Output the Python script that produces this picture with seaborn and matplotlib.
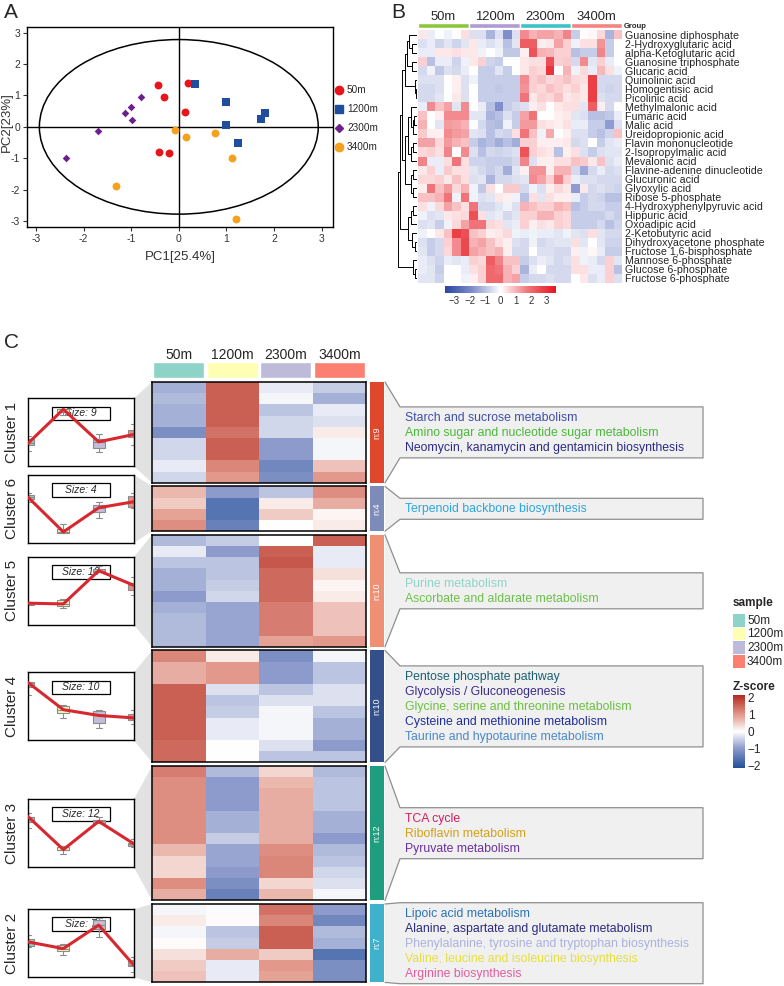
import numpy as np
import pandas as pd
import matplotlib
matplotlib.use('Agg')
import matplotlib.pyplot as plt
import seaborn as sns
from matplotlib.colors import LinearSegmentedColormap, Normalize
from matplotlib.patches import Ellipse, Rectangle
from matplotlib.lines import Line2D
import matplotlib.cm as cm

# ---------------- data ----------------
groups = ['50m', '1200m', '2300m', '3400m']

# Panel A: PCA scores
pc1_50m = [-0.44, 0.20, -0.32, 0.13, -0.42, -0.21]
pc2_50m = [1.33, 1.41, 0.94, 0.46, -0.79, -0.82]
pc1_1200m = [0.35, 0.99, 1.81, 1.73, 0.99, 1.25]
pc2_1200m = [1.36, 0.78, 0.44, 0.26, 0.06, -0.52]
pc1_2300m = [-0.79, -1.01, -1.14, -0.99, -1.70, -2.38]
pc2_2300m = [0.95, 0.64, 0.43, 0.21, -0.12, -1.00]
pc1_3400m = [-0.09, 0.15, 0.75, 1.11, -1.32, 1.20]
pc2_3400m = [-0.09, -0.31, -0.21, -0.98, -1.89, -2.95]
ellipse_semi_axes = (2.93, 2.78)

# Panel B: metabolite heatmap
b_metabolites = ['Guanosine diphosphate', '2-Hydroxyglutaric acid', 'alpha-Ketoglutaric acid',
                 'Guanosine triphosphate', 'Glucaric acid', 'Quinolinic acid', 'Homogentisic acid',
                 'Picolinic acid', 'Methylmalonic acid', 'Fumaric acid', 'Malic acid',
                 'Ureidopropionic acid', 'Flavin mononucleotide', '2-Isopropylmalic acid',
                 'Mevalonic acid', 'Flavine-adenine dinucleotide', 'Glucuronic acid',
                 'Glyoxylic acid', 'Ribose 5-phosphate', '4-Hydroxyphenylpyruvic acid',
                 'Hippuric acid', 'Oxoadipic acid', '2-Ketobutyric acid',
                 'Dihydroxyacetone phosphate', 'Fructose 1,6-bisphosphate',
                 'Mannose 6-phosphate', 'Glucose 6-phosphate', 'Fructose 6-phosphate']
b_50m = [
    [0.3, -0.3, 0.0, -0.2, 0.0, 0.4], [-0.5, -0.3, -0.7, -0.4, -0.7, -0.4],
    [-0.3, -0.3, 0.3, 0.3, 0.4, 0.3], [0.6, -1.0, -0.3, -0.3, -0.7, -0.2],
    [-0.6, -0.2, -0.9, -0.5, -0.6, -0.3], [-0.5, -0.5, -0.5, 0.0, 0.2, -0.5],
    [-0.6, -0.6, -0.5, 0.0, 0.2, -0.5], [-0.6, -0.6, -0.4, 0.0, 0.3, -0.5],
    [-0.3, 1.5, 0.8, 1.2, -0.4, 1.5], [0.8, 0.0, 0.2, 1.5, 1.5, 1.5],
    [1.0, 0.0, -0.4, 1.3, 1.2, 1.0], [0.7, 0.2, 0.2, 1.5, 1.3, 1.2],
    [1.2, 1.2, 0.5, 1.3, 1.0, 0.8], [0.5, 0.6, 0.4, 1.6, 0.0, 1.5],
    [1.6, -0.3, -0.3, 0.4, 1.8, 0.4], [0.3, 0.6, -0.3, 0.7, 0.4, 0.4],
    [0.5, 0.5, 0.6, 0.3, 0.8, 0.4], [0.2, 1.8, 0.8, 1.3, 0.5, 1.0],
    [0.8, 0.8, 1.0, 1.8, -0.2, 1.8], [0.4, -0.2, 0.5, 1.2, 0.8, 0.4],
    [-0.2, -0.5, -0.4, 0.3, 0.4, 0.5], [-0.5, -0.4, -0.8, -0.2, 0.5, 1.2],
    [-0.2, 0.0, 0.3, 0.8, 2.8, 2.5], [-0.5, -0.8, -0.6, 0.6, 1.5, 2.6],
    [-0.4, -0.8, -0.6, 0.5, 1.5, 2.6], [-0.3, -0.5, -0.7, -0.3, -0.4, -0.3],
    [-0.3, -0.4, -0.8, 0.0, 0.0, -0.3], [-0.4, -0.4, -0.7, 0.0, 0.0, -0.2]]
b_1200m = [
    [-0.5, -0.5, -1.2, -0.5, -1.8, -0.5], [0.3, -0.3, -0.5, -0.3, -1.0, -0.4],
    [0.3, -0.2, 0.0, -0.2, -0.9, -0.9], [0.3, 0.6, -0.7, -0.8, 0.0, 0.0],
    [0.0, -0.8, -0.8, -0.4, -0.8, 0.0], [-0.2, -0.8, -0.8, -0.8, -0.8, -0.8],
    [0.0, -0.8, -0.8, -0.9, -0.8, -0.8], [0.0, -0.8, -0.8, -0.8, -0.8, -0.8],
    [0.0, -0.3, -1.0, -1.8, -0.8, -0.6], [-0.4, -0.4, -1.2, -1.0, -0.5, -0.8],
    [0.0, -0.6, -1.0, -1.1, -0.2, -0.8], [-0.4, -0.5, -1.0, -0.6, -0.7, 0.4],
    [-0.8, -1.2, -1.0, -1.3, -1.0, -1.3], [-0.5, -1.0, -0.6, -0.7, -0.6, -0.5],
    [-0.7, -0.7, -0.8, -0.8, -0.8, -0.6], [-0.4, -0.6, -0.8, -0.6, -1.3, -0.4],
    [-0.5, -0.4, -1.2, -0.6, -0.6, -0.5], [-0.2, -0.9, 0.4, 0.0, 0.7, 0.7],
    [-0.2, -0.5, -0.4, 0.3, 0.2, -0.2], [1.8, -0.6, -0.6, -0.4, -0.2, -0.5],
    [2.5, 0.4, -0.4, -0.3, -0.6, -0.4], [1.8, 1.8, 0.5, 0.4, -0.4, -0.3],
    [0.8, 0.6, 0.2, 0.3, 0.5, -0.2], [1.0, 1.2, 0.8, 0.4, 0.2, -0.5],
    [1.2, 1.0, 0.8, 1.0, 0.2, -0.6], [0.6, 0.5, 2.2, 1.6, 0.8, 0.8],
    [0.4, 0.6, 2.0, 1.8, 1.0, 0.6], [0.2, 0.6, 2.0, 2.0, 1.0, 1.2]]
b_2300m = [
    [1.5, 1.0, 1.2, 1.2, 1.0, 1.6], [2.2, 2.2, 0.2, 0.3, 1.2, 0.6],
    [0.2, 2.4, 1.0, 0.9, 0.6, 0.6], [0.3, 0.4, 0.4, 2.5, 0.6, 0.7],
    [0.3, 0.6, 0.5, 3.0, 0.0, 1.0], [1.5, 0.6, 0.8, 0.5, 0.6, 0.8],
    [1.4, 0.6, 0.5, 0.8, 0.6, 0.4], [1.8, 0.3, 0.6, 0.5, 0.8, 0.3],
    [-0.5, 0.2, 0.4, 0.0, 0.3, 0.4], [1.2, 1.8, 0.0, 0.0, 0.2, 0.3],
    [1.3, 1.3, 0.4, 0.3, 0.2, 0.4], [1.8, 0.8, -0.2, 1.1, 0.0, 0.2],
    [0.6, 0.6, 0.2, 0.2, 0.2, 0.3], [2.4, 0.6, 0.4, 0.3, -1.0, 0.2],
    [1.6, -0.5, 0.2, 0.2, 0.4, 0.4], [0.2, 1.4, 1.4, 0.2, 1.0, 1.0],
    [-0.4, 1.5, 1.2, 0.6, 1.6, 0.6], [-0.6, -0.2, -0.5, 0.2, 0.5, 0.3],
    [-1.0, 0.4, -0.4, 0.4, 0.2, 0.2], [1.0, 0.8, 0.6, 0.6, 1.0, 0.8],
    [0.6, 0.6, 1.0, 1.0, 0.6, 0.5], [0.6, 0.2, 0.4, 0.3, 0.6, 0.5],
    [-0.3, -0.2, -0.3, -0.3, -0.4, -0.2], [-0.6, -0.2, -0.6, -0.5, -0.4, -0.4],
    [-0.6, 0.0, -0.5, -0.5, -0.6, -0.6], [-0.8, -0.5, -0.3, -0.4, -0.6, -0.5],
    [-1.2, -0.3, 0.0, -0.6, -0.6, -0.6], [-0.8, -0.6, -0.6, -0.5, -0.6, -0.6]]
b_3400m = [
    [-0.8, 0.0, 0.1, 0.5, -1.2, 0.8], [-0.2, 0.4, 0.4, 1.4, -0.8, 0.0],
    [-1.0, -0.8, -0.8, 1.6, -0.8, 0.0], [-0.6, 1.5, -0.4, 0.6, -0.3, 0.0],
    [-0.2, 0.5, -0.3, 0.9, 0.4, -0.2], [0.5, 0.4, 2.8, -0.6, -0.6, -0.6],
    [0.6, 0.3, 2.8, -0.6, -0.7, -0.6], [0.4, 0.3, 2.8, -0.5, -0.6, -0.6],
    [0.4, -0.4, 2.2, 0.2, -0.6, 0.0], [-0.4, -0.5, -1.0, -1.0, -0.9, -0.3],
    [-0.3, -0.3, -0.8, -0.8, -1.6, -0.5], [-0.5, -0.5, -0.8, -1.0, -0.7, 0.8],
    [-0.6, -0.5, 0.0, -0.8, -0.4, -0.3], [0.4, -0.5, -0.8, -0.5, -0.4, -0.4],
    [0.8, 0.7, 0.3, 0.8, -0.5, -0.3], [-0.6, -1.4, -0.6, -0.3, -0.6, -0.5],
    [-0.3, -0.5, -0.5, -0.6, -0.6, -0.6], [-1.6, 0.3, -0.6, -0.5, -0.6, -0.7],
    [-0.3, -0.8, -0.6, -0.7, -1.0, -1.0], [-1.0, -0.8, -0.6, -0.6, -0.8, -0.8],
    [-0.8, -0.8, -0.8, -0.8, -0.6, -0.8], [-0.8, -0.8, -0.8, -0.6, -1.0, -0.7],
    [-0.4, -0.5, 0.4, -0.4, -0.6, -0.6], [0.4, -0.4, 0.0, -0.4, -0.7, -0.7],
    [0.2, -0.2, 0.1, -0.3, -0.8, -0.8], [0.4, -0.2, -0.3, -0.6, 0.6, -0.4],
    [0.4, 0.4, -0.3, -0.3, 0.6, -1.0], [0.0, 0.3, -0.5, -0.3, 0.6, -0.5]]
# row dendrogram: (merge height, left, right); leaves are row indices
b_tree = (55, (48, (42, (35, (28, (22, 0, (15, 1, 2)), (13, 3, 4)), (5, 5, (3, 6, 7))),
                    (35, (25, (18, 8, (12, (8, 9, 10), 11)), (17, (12, 12, 13), 14)),
                     (18, (10, 15, 16), (10, 17, 18)))),
              (25, (18, (12, 19, 20), 21), (15, 22, (5, 23, 24)))),
          (12, 25, (5, 26, 27)))

# Panel C: cluster z-scores (rows = metabolites, cols = groups)
c1 = [[-0.8, 1.6, -0.2, -0.5], [-0.7, 1.6, -0.1, -0.8], [-0.8, 1.6, -0.6, -0.2],
      [-0.8, 1.6, -0.4, -0.3], [-1.2, 1.4, -0.4, 0.2], [-0.4, 1.6, -1.0, -0.1],
      [-0.4, 1.6, -1.0, -0.1], [-0.2, 1.2, -1.3, 0.6], [-0.4, 1.0, -1.2, 1.0]]
c6 = [[0.7, -1.0, -0.6, 1.1], [0.5, -1.6, 0.2, 0.8], [0.9, -1.6, 0.5, 0.1], [1.1, -1.4, 0.0, 0.2]]
c5 = [[-0.7, -0.5, 0.0, 1.6], [-0.2, -1.0, 1.6, -0.2], [-0.6, -0.6, 1.7, -0.2],
      [-0.8, -0.6, 1.5, 0.3], [-0.8, -0.5, 1.5, 0.1], [-1.0, -0.4, 1.5, 0.2],
      [-0.8, -0.9, 1.3, 0.6], [-0.7, -0.9, 1.3, 0.6], [-0.7, -0.9, 1.3, 0.6],
      [-0.7, -0.9, 0.9, 1.0]]
c4 = [[1.2, 0.2, -1.2, -0.1], [0.8, 1.0, -1.0, -0.6], [0.8, 1.0, -1.0, -0.6],
      [1.6, -0.3, -0.6, -0.3], [1.6, -0.6, -0.3, -0.3], [1.6, -0.5, -0.1, -0.6],
      [1.6, -0.2, -0.1, -0.8], [1.6, -0.2, -0.1, -0.8], [1.5, 0.0, -0.3, -1.0],
      [1.5, 0.0, -0.6, -0.6]]
c3 = [[1.3, -0.7, 0.4, -0.7], [1.1, -1.0, 0.7, -0.6], [1.1, -1.0, 0.8, -0.6],
      [1.1, -1.0, 0.8, -0.6], [1.1, -0.8, 0.8, -0.8], [1.1, -0.8, 0.8, -0.8],
      [1.1, -0.5, 0.8, -1.0], [0.7, -0.9, 1.1, -0.7], [0.4, -0.9, 1.2, -0.6],
      [0.4, -1.0, 1.2, -0.4], [1.1, -1.2, 0.4, -0.3], [0.8, -1.4, 0.7, -0.1]]
c2 = [[-0.1, -0.05, 1.4, -1.0], [0.2, 0.05, 1.2, -1.3], [-0.1, -0.6, 1.6, -0.7],
      [0.05, -0.5, 1.6, -0.8], [0.3, 0.8, 0.5, -1.6], [0.5, -0.2, 1.0, -1.2],
      [0.6, -0.2, 0.9, -1.2]]
pw_c1 = ['Starch and sucrose metabolism', 'Amino sugar and nucleotide sugar metabolism',
         'Neomycin, kanamycin and gentamicin biosynthesis']
pw_c6 = ['Terpenoid backbone biosynthesis']
pw_c5 = ['Purine metabolism', 'Ascorbate and aldarate metabolism']
pw_c4 = ['Pentose phosphate pathway', 'Glycolysis / Gluconeogenesis',
         'Glycine, serine and threonine metabolism', 'Cysteine and methionine metabolism',
         'Taurine and hypotaurine metabolism']
pw_c3 = ['TCA cycle', 'Riboflavin metabolism', 'Pyruvate metabolism']
pw_c2 = ['Lipoic acid metabolism', 'Alanine, aspartate and glutamate metabolism',
         'Phenylalanine, tyrosine and tryptophan biosynthesis',
         'Valine, leucine and isoleucine biosynthesis', 'Arginine biosynthesis']

# ---------------- styles ----------------
colA = {'50m': '#e8141c', '1200m': '#1f4e9e', '2300m': '#6d1f8c', '3400m': '#f6a11c'}
mkA = {'50m': 'o', '1200m': 's', '2300m': 'D', '3400m': 'o'}
szA = {'50m': 32, '1200m': 30, '2300m': 15, '3400m': 32}
grp_colB = ['#8cc63f', '#b39ad3', '#3fc1c9', '#f28482']
set3 = ['#8dd3c7', '#ffffb3', '#bebada', '#fb8072']
cmapB = LinearSegmentedColormap.from_list(
    'b', [(0, '#2a44a0'), (0.25, '#7f8fcc'), (0.5, '#ffffff'), (0.75, '#ef7479'), (1, '#e8141c')])
cmapC = LinearSegmentedColormap.from_list(
    'c', [(0, '#1f4e9a'), (0.27, '#8c9bcb'), (0.5, '#ffffff'), (0.73, '#e2988a'), (1, '#b2271f')])
pc_c1 = ['#3d4ea8', '#4ab83a', '#2b2b85']
pc_c6 = ['#2aa6e0']
pc_c5 = ['#8fd4c8', '#6cc04a']
pc_c4 = ['#1c5f73', '#3a2a8c', '#6cc040', '#1f2d9a', '#4a88c8']
pc_c3 = ['#d81b60', '#d4a017', '#6a30a0']
pc_c2 = ['#2a72b8', '#2a2a80', '#aab2dd', '#e6e03a', '#e25ca0']
mini_frac = {'Cluster 1': [0.35, 0.84, 0.35, 0.47], 'Cluster 6': [0.68, 0.16, 0.52, 0.59],
             'Cluster 5': [0.31, 0.31, 0.79, 0.59], 'Cluster 4': [0.85, 0.46, 0.35, 0.34],
             'Cluster 3': [0.74, 0.26, 0.68, 0.34], 'Cluster 2': [0.53, 0.42, 0.76, 0.17]}

sns.set_theme(style='white')
plt.rcParams['font.family'] = ['Liberation Sans', 'DejaVu Sans']
plt.rcParams['axes.unicode_minus'] = False

W, H = 784, 986
fig = plt.figure(figsize=(W / 100, H / 100), dpi=100)


def rect(x0, y0, x1, y1):
    return [x0 / W, 1 - y1 / H, (x1 - x0) / W, (y1 - y0) / H]


ov = fig.add_axes([0, 0, 1, 1], facecolor='none')
ov.set_xlim(0, W)
ov.set_ylim(H, 0)
ov.axis('off')

# ---------------- Panel A ----------------
axA = fig.add_axes(rect(27, 27, 333, 227))
pcs = {'50m': (pc1_50m, pc2_50m), '1200m': (pc1_1200m, pc2_1200m),
       '2300m': (pc1_2300m, pc2_2300m), '3400m': (pc1_3400m, pc2_3400m)}
for g in groups:
    d = pd.DataFrame({'PC1': pcs[g][0], 'PC2': pcs[g][1]})
    sns.scatterplot(data=d, x='PC1', y='PC2', color=colA[g], marker=mkA[g], s=szA[g],
                    linewidth=0, ax=axA, zorder=3)
axA.add_patch(Ellipse((0, 0), 2 * ellipse_semi_axes[0], 2 * ellipse_semi_axes[1],
                      fill=False, ec='black', lw=1.1))
axA.axhline(0, color='black', lw=1.0)
axA.axvline(0, color='black', lw=1.0)
axA.set_xlim(-3.19, 3.24)
axA.set_ylim(-3.19, 3.18)
axA.set_xticks(range(-3, 4))
axA.set_yticks(range(-3, 4))
axA.set_xlabel('')
axA.set_ylabel('')
axA.tick_params(bottom=True, left=True, length=3, width=0.8, color='#333333',
                labelsize=7.5, labelcolor='#333333', pad=2)
for s in axA.spines.values():
    s.set_color('black')
    s.set_linewidth(1.0)
handles = [Line2D([], [], marker=mkA[g], color=colA[g], ls='',
                  markersize=6 if mkA[g] != 'D' else 4.2) for g in groups]
fig.legend(handles, groups, loc='upper left', bbox_to_anchor=(334 / W, 1 - 85 / H),
           frameon=False, fontsize=7.2, handlelength=1.0, handletextpad=0.3,
           labelspacing=0.9, borderpad=0, borderaxespad=0)
ov.text(180, 257, 'PC1[25.4%]', fontsize=9.5, ha='center', va='center', color='#333333')
ov.text(7, 122, 'PC2[23%]', fontsize=9.5, ha='center', va='center', rotation=90,
        color='#333333')
ov.text(4, 3, 'A', fontsize=15, ha='left', va='top')

# ---------------- Panel B ----------------
ov.text(391, 3, 'B', fontsize=15, ha='left', va='top')
matB = np.hstack([np.array(b_50m), np.array(b_1200m), np.array(b_2300m), np.array(b_3400m)])
dfB = pd.DataFrame(matB, index=b_metabolites)
axB = fig.add_axes(rect(418, 30, 622, 283))
cbB = fig.add_axes(rect(445, 286, 556, 293))
sns.heatmap(dfB, cmap=cmapB, vmin=-3.6, vmax=3.6, ax=axB, cbar_ax=cbB,
            cbar_kws={'orientation': 'horizontal', 'ticks': [-3, -2, -1, 0, 1, 2, 3]},
            xticklabels=False, yticklabels=True)
axB.yaxis.tick_right()
axB.set_yticks(np.arange(len(b_metabolites)) + 0.5)
axB.set_yticklabels(b_metabolites, rotation=0, fontsize=7.7)
axB.tick_params(axis='y', length=0, pad=2, right=False, left=False)
axB.set_ylabel('')
cbB.tick_params(length=0, labelsize=7, pad=2, colors='#333333')
cbB.set_xticklabels(['\u22123', '\u22122', '\u22121', '0', '1', '2', '3'])
for s in cbB.spines.values():
    s.set_visible(False)

axG = fig.add_axes(rect(418, 23, 622, 28))
axG.bar(range(4), [1] * 4, width=1.0, color=grp_colB)
axG.set_xlim(-0.5, 3.5)
axG.set_ylim(0, 1)
axG.axis('off')
for i, g in enumerate(groups):
    ov.text(418 + 51 * (i + 0.5), 17.5, g, fontsize=9.4, ha='center', va='center')
ov.text(624, 26, 'Group', fontsize=5.5, fontweight='bold', ha='left', va='center')

axD = fig.add_axes(rect(397, 30, 417, 283), facecolor='none')


def draw_tree(node):
    if isinstance(node, int):
        return node + 0.5, 0
    h, l, r = node
    yl, hl = draw_tree(l)
    yr, hr = draw_tree(r)
    axD.plot([hl, h, h, hr], [yl, yl, yr, yr], color='black', lw=0.7)
    return (yl + yr) / 2, h


draw_tree(b_tree)
axD.set_xlim(57, 0)
axD.set_ylim(len(b_metabolites), 0)
axD.axis('off')

# ---------------- Panel C ----------------
ov.text(4, 333, 'C', fontsize=15, ha='left', va='top')
axH = fig.add_axes(rect(152, 362, 366, 378))
axH.bar(range(4), [1] * 4, width=0.96, color=set3)
axH.set_xlim(-0.5, 3.5)
axH.set_ylim(0, 1)
axH.axis('off')
for i, g in enumerate(groups):
    ov.text(152 + 53.5 * (i + 0.5), 355, g, fontsize=10, ha='center', va='center')

clusters = [
    ('Cluster 1', c1, pw_c1, pc_c1, '#e0482e'),
    ('Cluster 6', c6, pw_c6, pc_c6, '#7d8bb8'),
    ('Cluster 5', c5, pw_c5, pc_c5, '#ef9075'),
    ('Cluster 4', c4, pw_c4, pc_c4, '#33508a'),
    ('Cluster 3', c3, pw_c3, pc_c3, '#1f9d7f'),
    ('Cluster 2', c2, pw_c2, pc_c2, '#3fb1cb'),
]
row_h, gap, y = 11.2, 3.6, 382.0
for name, data, pws, pcols, barcol in clusters:
    n = len(data)
    y0, y1 = y, y + n * row_h
    y = y1 + gap
    cy = (y0 + y1) / 2
    dfc = pd.DataFrame(data, columns=groups)
    ax = fig.add_axes(rect(152, y0, 366, y1))
    sns.heatmap(dfc, cmap=cmapC, vmin=-2.2, vmax=2.2, cbar=False, xticklabels=False,
                yticklabels=False, ax=ax)
    for s in ax.spines.values():
        s.set_visible(True)
        s.set_color('black')
        s.set_linewidth(1.1)
    # side bar
    ov.add_patch(Rectangle((370, y0), 14, y1 - y0, color=barcol, lw=0))
    ov.text(377, cy, f'n:{n}', rotation=90, color='white', fontsize=6.5,
            ha='center', va='center')
    # pathway box
    bh = 15 * len(pws) + 6
    bt, bb = cy - bh / 2, cy + bh / 2
    xs = [385, 400, 703, 703, 400, 385]
    ys = [y0, bt, bt, bb, bb, y1]
    ov.fill(xs, ys, color='#f0f0f0', lw=0)
    ov.plot(xs, ys, color='#8f8f8f', lw=0.9)
    for k, (p, c) in enumerate(zip(pws, pcols)):
        ov.text(405, bt + 11 + 15 * k, p, color=c, fontsize=8.8, ha='left', va='center')
    # mini profile plot
    mt, mb = cy - 34, cy + 34
    ov.fill([134, 152, 152, 134], [mt, y0, y1, mb], color='#e2e2e2', lw=0)
    axm = fig.add_axes(rect(28, mt, 134, mb))
    long = dfc.melt(var_name='sample', value_name='z')
    sns.boxplot(data=long, x='sample', y='z', hue='sample', order=groups, hue_order=groups,
                palette=set3, width=0.34, linewidth=0.8, linecolor='#8c8c8c', fliersize=0,
                legend=False, ax=axm)
    med = long.groupby('sample')['z'].median().reindex(groups).values
    axm.plot(range(4), med, color='#d7282f', lw=2.2, zorder=6)
    slope, icpt = np.polyfit(med, mini_frac[name], 1)
    axm.set_ylim(-icpt / slope, (1 - icpt) / slope)
    axm.set_xlim(0, 3)
    axm.add_patch(Rectangle((0.23, 0.68), 0.54, 0.2, transform=axm.transAxes, fc='white',
                            ec='black', lw=0.9, zorder=1))
    axm.text(0.5, 0.78, f'Size: {n}', transform=axm.transAxes, ha='center', va='center',
             fontsize=7.5, style='italic', zorder=1.5)
    axm.set_xticks([])
    axm.set_yticks([])
    axm.set_xlabel('')
    axm.set_ylabel('')
    for s in axm.spines.values():
        s.set_color('black')
        s.set_linewidth(1.0)
    ov.text(12, cy, name, rotation=90, fontsize=11, ha='center', va='center')

# legends of panel C
ov.text(733, 603, 'sample', fontsize=8.5, fontweight='bold', ha='left', va='center')
for i, g in enumerate(groups):
    ov.add_patch(Rectangle((733, 614 + 13.7 * i), 12, 12.5, color=set3[i], lw=0))
    ov.text(747, 620.5 + 13.7 * i, g, fontsize=8.5, ha='left', va='center')
ov.text(733, 687, 'Z-score', fontsize=8.5, fontweight='bold', ha='left', va='center')
cbC = fig.add_axes(rect(733, 694.6, 745, 768.4))
sm = cm.ScalarMappable(norm=Normalize(-2.2, 2.2), cmap=cmapC)
cb = fig.colorbar(sm, cax=cbC, ticks=[-2, -1, 0, 1, 2])
cb.outline.set_visible(False)
cb.ax.set_yticklabels(['\u22122', '\u22121', '0', '1', '2'])
cb.ax.tick_params(direction='in', color='white', length=3, width=0.8, labelsize=8.5, pad=2)

fig.savefig('out.png', dpi=100)
